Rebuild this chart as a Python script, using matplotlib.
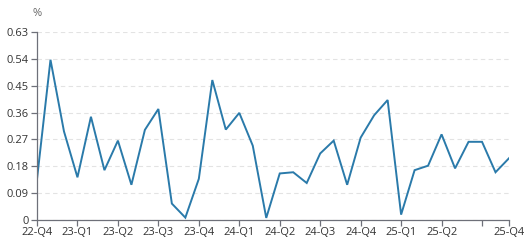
import matplotlib
matplotlib.use('Agg')
import matplotlib.pyplot as plt
import numpy as np

plt.rcParams['font.family'] = ['Open Sans', 'DejaVu Sans']

# monthly values, 36 points
values = [0.137, 0.537, 0.297, 0.143, 0.346, 0.167, 0.266, 0.118, 0.302, 0.372,
          0.055, 0.008, 0.138, 0.469, 0.303, 0.359, 0.249, 0.007, 0.156, 0.160,
          0.124, 0.223, 0.266, 0.118, 0.276, 0.351, 0.402, 0.018, 0.167, 0.182,
          0.287, 0.173, 0.262, 0.262, 0.160, 0.207]
tick_idx = [0, 3, 6, 9, 12, 15, 18, 21, 24, 27, 30, 33, 35]
tick_labels = ['22-Q4', '23-Q1', '23-Q2', '23-Q3', '23-Q4', '24-Q1', '24-Q2',
               '24-Q3', '24-Q4', '25-Q1', '25-Q2', '', '25-Q4']
y_ticks = [0, 0.09, 0.18, 0.27, 0.36, 0.45, 0.54, 0.63]
y_labels = ['0', '0.09', '0.18', '0.27', '0.36', '0.45', '0.54', '0.63']

fig = plt.figure(figsize=(5.29, 2.46), dpi=100)
ax = fig.add_axes([37 / 529, 1 - 220 / 246, (509 - 37) / 529, (220 - 32) / 246])

x = np.arange(len(values))
ax.plot(x, values, color='#2a7aaa', lw=1.4, solid_joinstyle='miter')

ax.set_xlim(0, len(values) - 1)
ax.set_ylim(0, 0.63)
ax.set_yticks(y_ticks)
ax.set_yticklabels(y_labels)
ax.set_xticks(tick_idx)
ax.set_xticklabels(tick_labels)

ax.grid(axis='y', color='#e3e3e3', ls=(0, (4, 3)), lw=0.8)
ax.set_axisbelow(True)

for s in ['top', 'right']:
    ax.spines[s].set_visible(False)
for s in ['left', 'bottom']:
    ax.spines[s].set_color('#6e7079')
    ax.spines[s].set_linewidth(0.9)

ax.tick_params(axis='x', length=4, width=0.9, color='#6e7079', labelsize=8,
               labelcolor='#333333', pad=1)
ax.tick_params(axis='y', length=4, width=0.9, color='#6e7079', labelsize=8,
               labelcolor='#333333', pad=2)

fig.text(37 / 529, 1 - 14 / 246, '%', fontsize=8, color='#666666', ha='center', va='center')

fig.savefig('out.png', dpi=100)
